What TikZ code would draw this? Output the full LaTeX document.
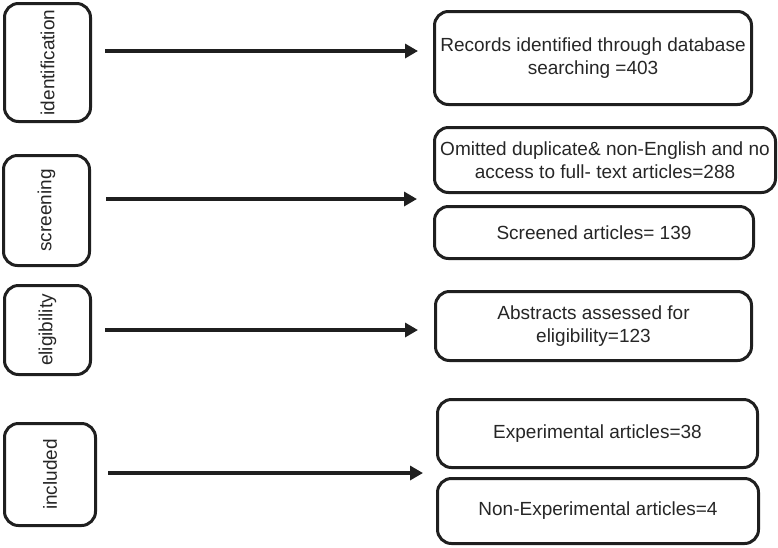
\documentclass[tikz,border=0pt]{standalone}
\usepackage{fontspec}
\setmainfont{Liberation Sans}
\usetikzlibrary{arrows.meta}
\begin{document}
\begin{tikzpicture}[x=1pt,y=-1pt,
  box/.style={draw=black!88, line width=3pt, rounded corners=14pt, inner sep=0pt,
    align=center, font=\fontsize{19}{22.5}\selectfont, text=black!85},
  side/.style={box, rotate=90},
  arr/.style={draw=black!88, line width=4pt, -{Triangle[length=13pt,width=14pt]}}]
\useasboundingbox (0,0) rectangle (778,547);
% left stage boxes (rotated: minimum width = vertical extent)
\node[side, minimum width=118pt, minimum height=86pt] (idl) at (47.5,62.5) {identification};
\node[side, minimum width=110pt, minimum height=86pt] (scr) at (46.5,210.5) {screening};
\node[side, minimum width=89pt, minimum height=86pt] (eli) at (47.5,330) {eligibility};
\node[side, minimum width=102pt, minimum height=91pt] (inc) at (50,474.5) {included};
% right boxes
\node[box, minimum width=317pt, minimum height=93pt] (rec) at (593,58)
  {Records identified through database\\searching =403};
\node[box, minimum width=341pt, minimum height=65pt] (omi) at (605,160)
  {Omitted duplicate\& non-English and no\\access to full- text articles=288};
\node[box, minimum width=319pt, minimum height=52pt] (scb) at (594,232.5)
  {Screened articles= 139};
\node[box, minimum width=316pt, minimum height=69pt] (abs) at (593.5,326)
  {Abstracts assessed for\\eligibility=123};
\node[box, minimum width=320pt, minimum height=68pt] (exp) at (597.5,433.5)
  {Experimental articles=38};
\node[box, minimum width=321pt, minimum height=65pt] (nex) at (598,511)
  {Non-Experimental articles=4};
% arrows
\coordinate (s1) at (105,51);  \coordinate (t1) at (418,51);
\coordinate (s2) at (106,199); \coordinate (t2) at (417,199);
\coordinate (s3) at (105,330); \coordinate (t3) at (418,330);
\coordinate (s4) at (108,473); \coordinate (t4) at (423,473);
\draw[arr] (s1) -- (t1);
\draw[arr] (s2) -- (t2);
\draw[arr] (s3) -- (t3);
\draw[arr] (s4) -- (t4);
\end{tikzpicture}
\end{document}
